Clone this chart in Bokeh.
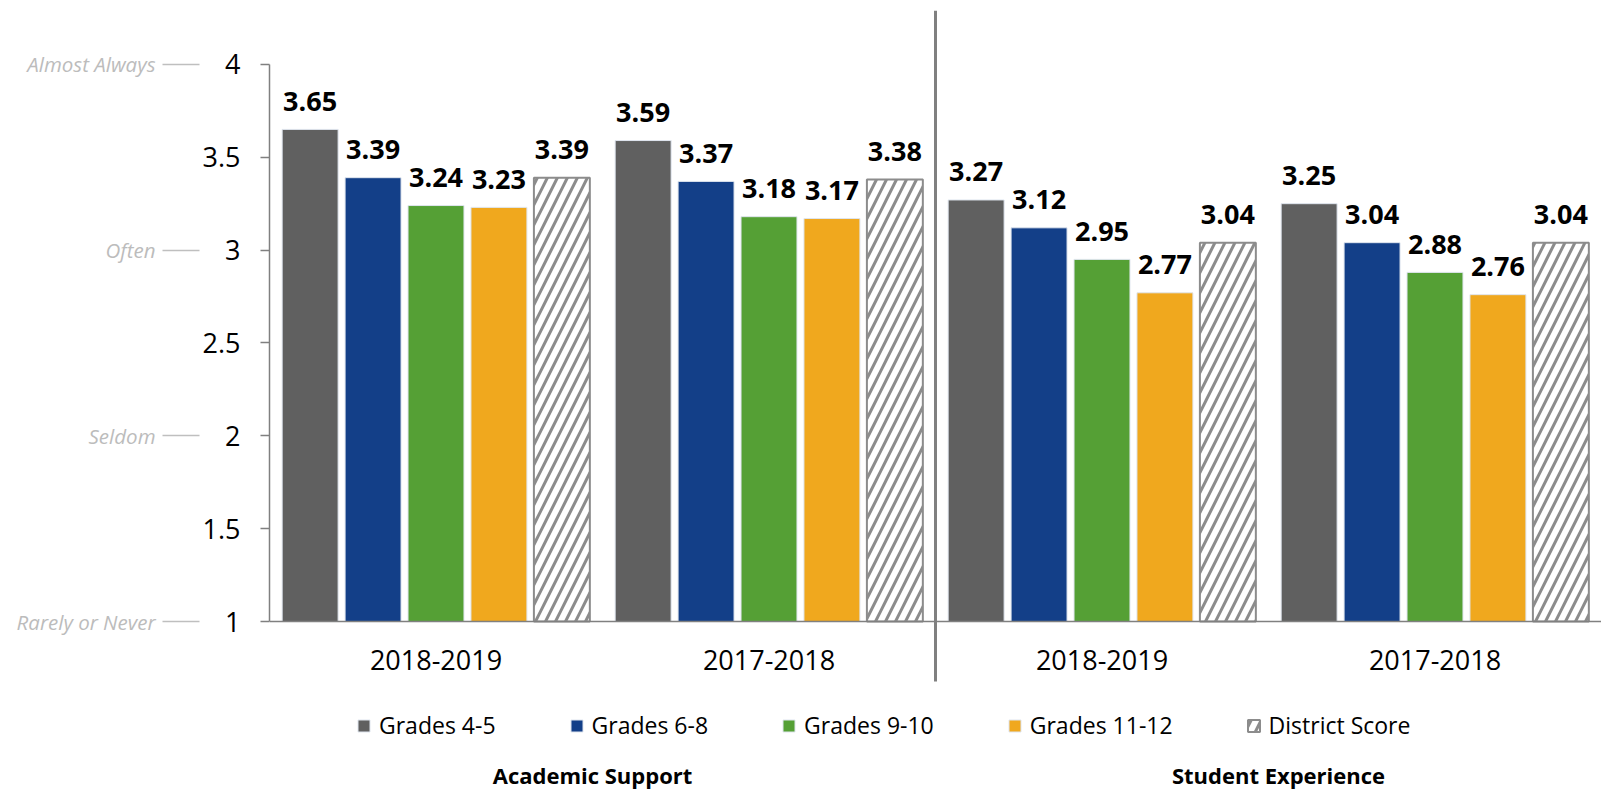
from bokeh.plotting import figure
from bokeh.models import (Range1d, FixedTicker, LinearAxis, Span, CustomJSTickFormatter)
from bokeh.core.properties import value
from bokeh.embed import file_html
from bokeh.resources import INLINE

# ---------------- data ----------------
groups = ["2018-2019", "2017-2018", "2018-2019", "2017-2018"]
sections = ["Academic Support", "Student Experience"]
series_names = ["Grades 4-5", "Grades 6-8", "Grades 9-10", "Grades 11-12", "District Score"]
grades_4_5 = [3.65, 3.59, 3.27, 3.25]
grades_6_8 = [3.39, 3.37, 3.12, 3.04]
grades_9_10 = [3.24, 3.18, 2.95, 2.88]
grades_11_12 = [3.23, 3.17, 2.77, 2.76]
district_score = [3.39, 3.38, 3.04, 3.04]
y_ticks = [1, 1.5, 2, 2.5, 3, 3.5, 4]
scale_values = [1, 2, 3, 4]
scale_labels = ["Rarely or Never", "Seldom", "Often", "Almost Always"]

series = [grades_4_5, grades_6_8, grades_9_10, grades_11_12, district_score]
colors = ["#606060", "#133F88", "#55A035", "#F0A81E", "white"]

# ---------------- geometry helpers ----------------
W, H = 1601, 793
PX = 185.7          # pixels per unit on y
Y1_PX = 621         # pixel row of y = 1
TOP_PX, BOT_PX = 10, 793
def y_at(py):
    return 1 + (Y1_PX - py) / PX
y_top = y_at(TOP_PX)
y_bot = y_at(BOT_PX)

FONT = "Open Sans"
p = figure(width=W, height=H, x_range=Range1d(0, len(groups)),
           y_range=Range1d(y_bot, y_top), output_backend="svg",
           toolbar_location=None, x_axis_location=None,
           min_border_left=269, min_border_right=0, min_border_top=TOP_PX,
           min_border_bottom=0)
p.outline_line_color = None
p.xgrid.visible = False
p.ygrid.visible = False
p.background_fill_color = "white"
p.border_fill_color = "white"

# inner y axis
ya = p.yaxis[0]
ya.ticker = FixedTicker(ticks=y_ticks)
ya.bounds = (1, 4)
ya.formatter = CustomJSTickFormatter(code="return String(tick)")
ya.axis_line_color = "#808080"
ya.axis_line_width = 1.5
ya.major_tick_line_color = "#808080"
ya.major_tick_line_width = 1.5
ya.major_tick_out = 9
ya.major_tick_in = 0
ya.minor_tick_out = 0
ya.minor_tick_in = 0
ya.major_label_text_font = FONT
ya.major_label_text_font_size = "27px"
ya.major_label_text_color = "black"
ya.major_label_standoff = 20

# outer descriptor axis
oa = LinearAxis(ticker=FixedTicker(ticks=scale_values),
                major_label_overrides={v: l for v, l in zip(scale_values, scale_labels)})
oa.axis_line_color = None
oa.major_tick_line_color = "#bfbfbf"
oa.major_tick_line_width = 1.5
oa.major_tick_out = 37
oa.major_tick_in = 0
oa.minor_tick_out = 0
oa.minor_tick_in = 0
oa.major_label_text_font = FONT
oa.major_label_text_font_style = "italic"
oa.major_label_text_font_size = "20.5px"
oa.major_label_text_color = "#bcbcbc"
oa.major_label_standoff = 7
p.add_layout(oa, "left")

# baseline and divider
p.add_layout(Span(location=1, dimension="width", line_color="#808080", line_width=1.5))
mid = len(groups) / 2
p.segment(x0=[mid], x1=[mid], y0=[y_at(681)], y1=[y_top], line_color="#808080", line_width=3)

# bars
slot = 0.189
bw = 0.168
centers = [i + 0.5 for i in range(len(groups))]
for k, (name, vals, col) in enumerate(zip(series_names, series, colors)):
    xs = [c + (k - 2) * slot for c in centers]
    if name == "District Score":
        p.vbar(x=xs, top=vals, bottom=1, width=bw, fill_color="white",
               line_color="#8c8c8c", line_width=2,
               hatch_pattern="/", hatch_color="#8c8c8c", hatch_weight=3, hatch_scale=20,
               legend_label=name)
    else:
        p.vbar(x=xs, top=vals, bottom=1, width=bw, fill_color=col,
               line_color="#dfe5ee", line_width=1, legend_label=name)
    p.text(x=xs, y=vals, text=[f"{v:.2f}" for v in vals], text_align="center",
           text_baseline="alphabetic", y_offset=-28, text_font=value(FONT),
           text_font_style="bold", text_font_size="27px", text_color="black")

# category labels
p.text(x=centers, y=[y_at(659)] * len(groups), text=groups, text_align="center",
       text_baseline="alphabetic", text_font=value(FONT), text_font_size="27px",
       text_color="black")

# section labels
section_x = [0.97, 3.03]
p.text(x=section_x, y=[y_at(774)] * 2, text=sections, text_align="center",
       text_baseline="alphabetic", text_font=value(FONT), text_font_style="bold",
       text_font_size="22px", text_color="black")

# legend
lg = p.legend[0]
lg.orientation = "horizontal"
lg.location = (87, 52)
lg.border_line_color = None
lg.background_fill_alpha = 0
lg.padding = 0
lg.margin = 0
lg.spacing = 73
lg.glyph_width = 15
lg.glyph_height = 15
lg.label_standoff = 8
lg.label_text_font = FONT
lg.label_text_font_size = "23px"
lg.label_text_color = "black"

open("out.html", "w").write(file_html(p, INLINE))
